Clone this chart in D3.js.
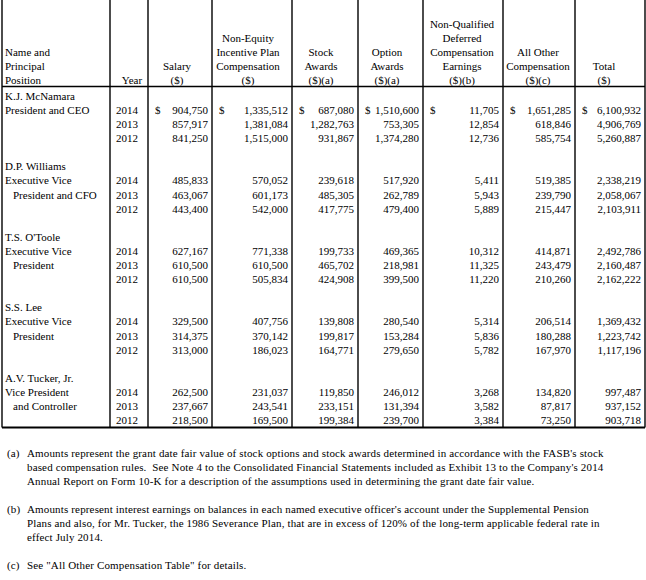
<!DOCTYPE html>
<html><head><meta charset="utf-8">
<script src="https://cdn.jsdelivr.net/npm/d3@7"></script>
<style>
html,body{margin:0;padding:0;background:#fff;}
svg text{font-family:"Liberation Serif","Times New Roman",serif;font-size:11px;fill:#000;}
svg text.fn{letter-spacing:0.15px;}
</style></head>
<body><svg id="c" width="646" height="580" font-family="Liberation Serif"></svg>
<script>
// ---------- data ----------
const names = ["K.J. McNamara","D.P. Williams","T.S. O'Toole","S.S. Lee","A.V. Tucker, Jr."];
const titles = [["President and CEO"],["Executive Vice","President and CFO"],["Executive Vice","President"],["Executive Vice","President"],["Vice President","and Controller"]];
const years = ["2014","2013","2012"];
const salary    = [[904750,857917,841250],[485833,463067,443400],[627167,610500,610500],[329500,314375,313000],[262500,237667,218500]];
const nonEquity = [[1335512,1381084,1515000],[570052,601173,542000],[771338,610500,505834],[407756,370142,186023],[231037,243541,169500]];
const stockAw   = [[687080,1282763,931867],[239618,485305,417775],[199733,465702,424908],[139808,199817,164771],[119850,233151,199384]];
const optionAw  = [[1510600,753305,1374280],[517920,262789,479400],[469365,218981,399500],[280540,153284,279650],[246012,131394,239700]];
const nqdc      = [[11705,12854,12736],[5411,5943,5889],[10312,11325,11220],[5314,5836,5782],[3268,3582,3384]];
const allOther  = [[1651285,618846,585754],[519385,239790,215447],[414871,243479,210260],[206514,180288,167970],[134820,87817,73250]];
const totals    = [[6100932,4906769,5260887],[2338219,2058067,2103911],[2492786,2160487,2162222],[1369432,1223742,1117196],[997487,937152,903718]];
const headers = [
  ["Name and","Principal","Position"],
  ["Year"],
  ["Salary","($)"],
  ["Non-Equity","Incentive Plan","Compensation","($)"],
  ["Stock","Awards","($)(a)"],
  ["Option","Awards","($)(a)"],
  ["Non-Qualified","Deferred","Compensation","Earnings","($)(b)"],
  ["All Other","Compensation","($)(c)"],
  ["Total","($)"]
];
const footnotes = [
  ["(a)",["Amounts represent the grant date fair value of stock options and stock awards determined in accordance with the FASB's stock","based compensation rules.  See Note 4 to the Consolidated Financial Statements included as Exhibit 13 to the Company's 2014","Annual Report on Form 10-K for a description of the assumptions used in determining the grant date fair value."]],
  ["(b)",["Amounts represent interest earnings on balances in each named executive officer's account under the Supplemental Pension","Plans and also, for Mr. Tucker, the 1986 Severance Plan, that are in excess of 120% of the long-term applicable federal rate in","effect July 2014."]],
  ["(c)",["See \"All Other Compensation Table\" for details."]]
];
const series = [salary,nonEquity,stockAw,optionAw,nqdc,allOther,totals];

// ---------- layout ----------
const edges = [2,110,148,212,292,358,423,503,575,645];
const headCenter = [null,132,177,248,321,387,462,538,604];
const svg = d3.select("#c");
const y = d3.scaleLinear().domain([0,1]).range([96,110.1]); // line index -> text center
const hy = d3.scaleLinear().domain([0,1]).range([80,66]);   // header line from bottom
const fmt = d3.format(",");
const headBottom = 86.5, tableBottom = 427.5;

// grid
svg.selectAll("line.v").data(edges).join("line")
  .attr("x1",d=>d).attr("x2",d=>d).attr("y1",0).attr("y2",tableBottom)
  .attr("stroke","#000").attr("stroke-width",1.4);
svg.append("line").attr("x1",edges[0]).attr("x2",edges[9]).attr("y1",headBottom).attr("y2",headBottom).attr("stroke","#000").attr("stroke-width",1.4);
svg.append("line").attr("x1",edges[0]).attr("x2",edges[9]).attr("y1",tableBottom).attr("y2",tableBottom).attr("stroke","#000").attr("stroke-width",2);

// headers
headers.forEach((lines,c)=>{
  const n = lines.length;
  lines.forEach((t,i)=>{
    svg.append("text").attr("x", c===0 ? 5 : headCenter[c]).attr("y", hy(n-1-i))
      .attr("dy","0.35em").attr("text-anchor", c===0 ? "start":"middle").text(t);
  });
});

// body
names.forEach((nm,b)=>{
  const base = b*5;
  svg.append("text").attr("x",5).attr("y",y(base)).attr("dy","0.35em").text(nm);
  titles[b].forEach((t,i)=>{
    svg.append("text").attr("x", i===0 ? 5 : 13).attr("y",y(base+1+i)).attr("dy","0.35em").text(t);
  });
  years.forEach((yr,r)=>{
    const ly = y(base+1+r);
    svg.append("text").attr("x",138).attr("y",ly).attr("dy","0.35em").attr("text-anchor","end").text(yr);
    series.forEach((s,k)=>{
      const c = k+2;
      svg.append("text").attr("x",edges[c+1]-4).attr("y",ly).attr("dy","0.35em").attr("text-anchor","end").text(fmt(s[b][r]));
      if(b===0 && r===0){
        svg.append("text").attr("x",edges[c]+7).attr("y",ly).attr("dy","0.35em").text("$");
      }
    });
  });
});

// footnotes
const fy = d3.scaleLinear().domain([0,1]).range([453,467]);
let li = 0;
footnotes.forEach(([lab,lines])=>{
  svg.append("text").attr("class","fn").attr("x",7).attr("y",fy(li)).attr("dy","0.35em").text(lab);
  lines.forEach(t=>{
    svg.append("text").attr("class","fn").attr("x",27).attr("y",fy(li)).attr("dy","0.35em").attr("xml:space","preserve").text(t);
    li++;
  });
  li++;
});
</script></body></html>
